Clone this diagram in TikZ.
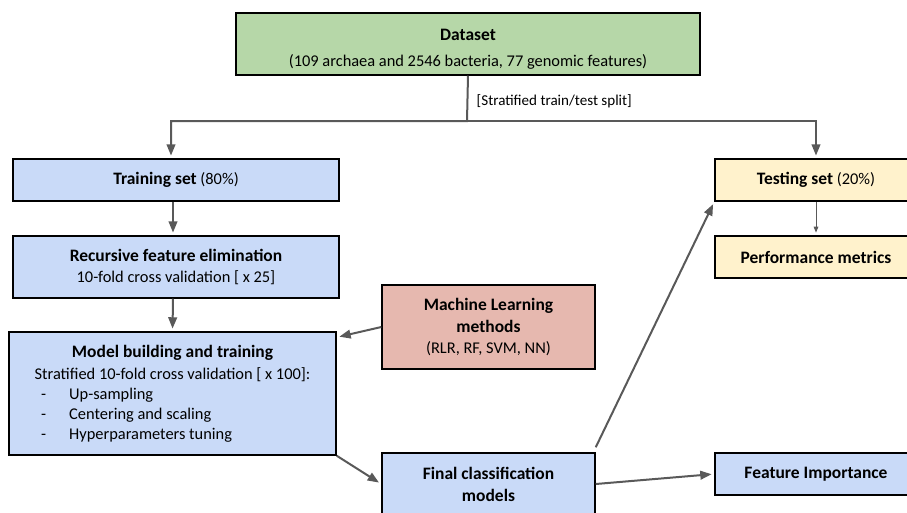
\documentclass[tikz,border=0pt]{standalone}
\usepackage{fontspec}
\setmainfont{Carlito}
\usetikzlibrary{arrows.meta,calc}
\definecolor{dsgreen}{HTML}{B6D7A8}
\definecolor{stepblue}{HTML}{C9DAF8}
\definecolor{mlred}{HTML}{E6B8AF}
\definecolor{testyellow}{HTML}{FFF2CC}
\definecolor{linkgray}{HTML}{595959}
\newcommand\hd[1]{{\fontsize{13.1}{15}\selectfont\bfseries #1}}
\newcommand\itm[1]{\makebox[209pt][l]{\hspace{6pt}\makebox[21pt][l]{-}#1}}
\begin{document}
\begin{tikzpicture}[x=.75pt, y=-.75pt, font=\fontsize{12.3}{15}\selectfont, line join=miter, >={Triangle[length=8.5pt,width=6.5pt]},
	box/.style={draw=black, line width=1.1pt, align=center, inner sep=0pt},
	link/.style={->, draw=linkgray, line width=1.5pt, shorten >=2pt},
	thinlink/.style={-{Triangle[length=4.5pt,width=3.5pt]}, draw=linkgray, line width=.75pt, shorten >=2pt}]
		\def\u{.75pt}
		\useasboundingbox (0,0) rectangle (907,512);
		\clip (0,0) rectangle (907,512);
		\node[box, fill=dsgreen, minimum width=464*\u, minimum height=62*\u] (data) at (468,44)
		{\rule{0pt}{17pt}\hd{Dataset}\\[4.5pt](109 archaea and 2546 bacteria, 77 genomic features)};
		\node[box, fill=stepblue, minimum width=326*\u, minimum height=42*\u] (train) at (176,180)
		{\hd{Training set} (80\%)};
		\node[box, fill=stepblue, minimum width=326*\u, minimum height=62*\u] (rfe) at (176,267)
		{\hd{Recursive feature elimination}\\[.75pt]10-fold cross validation [ x 25]};
		\node[box, fill=stepblue, minimum width=327*\u, minimum height=123*\u] (model) at (172.5,393.5)
		{\hd{Model building and training}\\[1.5pt]Stratified 10-fold cross validation [ x 100]:\\
		\itm{Up-sampling}\\
		\itm{Centering and scaling}\\
		\itm{Hyperparameters tuning}};
		\node[box, fill=mlred, minimum width=213*\u, minimum height=84*\u] (ml) at (488.5,327)
		{\hd{Machine Learning}\\[1pt]\hd{methods}\\[1pt](RLR, RF, SVM, NN)};
		\node[box, fill=stepblue, minimum width=213*\u, minimum height=62*\u] (final) at (488.5,484)
		{\hd{Final classification}\\[1.5pt]\hd{models}};
		\node[box, fill=testyellow, minimum width=202*\u, minimum height=42*\u] (test) at (816,180)
		{\hd{Testing set} (20\%)};
		\node[box, fill=testyellow, minimum width=202*\u, minimum height=42*\u] (perf) at (816,257)
		{\hd{Performance metrics}};
		\node[box, fill=stepblue, minimum width=202*\u, minimum height=42*\u] (feat) at (816,474)
		{\hd{Feature Importance}};
		\coordinate (split) at (467,121);
		\draw[link] (data.south) -- (split) -| ($(train.north)+(-5,0)$);
		\draw[link] (split) -| (test.north);
		\node[right, font=\fontsize{11.3}{13}\selectfont] (splitlabel) at (472,101) {[Stratified train/test split]};
		\draw[link] ($(train.south)+(-3,0)$) -- ($(rfe.north)+(-3,0)$);
		\draw[link] ($(rfe.south)+(-3,0)$) -- (model.north);
		\draw[link] (ml.west) -- ($(model.north east)+(0,6)$);
		\draw[link] (model.south east) -- (final.west);
		\draw[link] ($(final.north east)+(0,-5)$) -- (test.south west);
		\draw[link] (final.east) -- (feat.west);
		\draw[thinlink] (test.south) -- (perf.north);
\end{tikzpicture}
\end{document}
